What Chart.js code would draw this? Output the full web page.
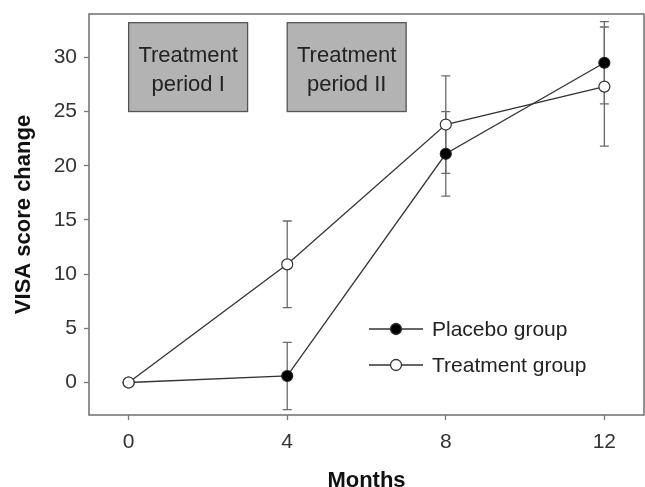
<!DOCTYPE html>
<html>
<head>
<meta charset="utf-8">
<script src="https://cdn.jsdelivr.net/npm/chart.js@4"></script>
<style>
  body { margin: 0; background: #fff; }
  #visaChart { display: block; }
</style>
</head>
<body>
<canvas id="visaChart" width="645" height="487"></canvas>
<script>
const months = [0, 4, 8, 12];
const placeboMean = [0, 0.6, 21.1, 29.5];
const placeboErr = [0, 3.1, 3.9, 3.8];
const treatmentMean = [0, 10.9, 23.8, 27.3];
const treatmentErr = [0, 4.0, 4.5, 5.5];

const xTicks = [0, 4, 8, 12];
const yTicks = [0, 5, 10, 15, 20, 25, 30];

const periodLabels = [['Treatment', 'period I'], ['Treatment', 'period II']];
const periodStart = [0, 4];
const periodEnd = [3, 7];
const periodLow = 25;
const periodHigh = 33.2;

const FONT = '"Liberation Sans", Arial, Helvetica, sans-serif';
const LINE = '#333';
const FRAME = '#777';

const toPoints = (ys) => months.map((m, i) => ({ x: m, y: ys[i] }));

function noEdgePadding(scale) {
  scale.paddingTop = 0;
  scale.paddingBottom = 0;
  scale.paddingLeft = 0;
  scale.paddingRight = 0;
}

// error bars + shaded period boxes, behind the lines
const backdrop = {
  id: 'backdrop',
  beforeDatasetsDraw(chart) {
    const { ctx, scales: { x, y } } = chart;
    ctx.save();

    periodStart.forEach((start, i) => {
      const left = x.getPixelForValue(start);
      const right = x.getPixelForValue(periodEnd[i]);
      const top = y.getPixelForValue(periodHigh);
      const bottom = y.getPixelForValue(periodLow);
      ctx.fillStyle = '#b3b3b3';
      ctx.fillRect(left, top, right - left, bottom - top);
      ctx.strokeStyle = '#555';
      ctx.lineWidth = 1.3;
      ctx.strokeRect(left, top, right - left, bottom - top);

      ctx.fillStyle = '#222';
      ctx.font = `22px ${FONT}`;
      ctx.textAlign = 'center';
      ctx.textBaseline = 'alphabetic';
      const cx = (left + right) / 2;
      ctx.fillText(periodLabels[i][0], cx, top + 39);
      ctx.fillText(periodLabels[i][1], cx, top + 68);
    });

    ctx.strokeStyle = '#6a6a6a';
    ctx.lineWidth = 1.3;
    const cap = 4.5;
    [[placeboMean, placeboErr], [treatmentMean, treatmentErr]].forEach(([means, errs]) => {
      months.forEach((m, i) => {
        if (!errs[i]) return;
        const px = x.getPixelForValue(m);
        const hi = y.getPixelForValue(means[i] + errs[i]);
        const lo = y.getPixelForValue(means[i] - errs[i]);
        ctx.beginPath();
        ctx.moveTo(px, hi);
        ctx.lineTo(px, lo);
        ctx.moveTo(px - cap, hi);
        ctx.lineTo(px + cap, hi);
        ctx.moveTo(px - cap, lo);
        ctx.lineTo(px + cap, lo);
        ctx.stroke();
      });
    });
    ctx.restore();
  },
  afterDraw(chart) {
    const { ctx, chartArea: a } = chart;
    ctx.save();
    ctx.strokeStyle = FRAME;
    ctx.lineWidth = 1.6;
    ctx.strokeRect(a.left, a.top, a.right - a.left, a.bottom - a.top);

    // legend inside the plot
    const rows = [
      { text: 'Placebo group', fill: '#000' },
      { text: 'Treatment group', fill: '#fff' },
    ];
    rows.forEach((row, i) => {
      const ly = a.top + 315 + i * 36;
      const lx = a.left + 280;
      ctx.strokeStyle = LINE;
      ctx.lineWidth = 1.3;
      ctx.beginPath();
      ctx.moveTo(lx, ly);
      ctx.lineTo(lx + 54, ly);
      ctx.stroke();
      ctx.beginPath();
      ctx.arc(lx + 27, ly, 5.5, 0, Math.PI * 2);
      ctx.fillStyle = row.fill;
      ctx.fill();
      ctx.stroke();
      ctx.fillStyle = '#222';
      ctx.font = `21px ${FONT}`;
      ctx.textAlign = 'left';
      ctx.textBaseline = 'middle';
      ctx.fillText(row.text, lx + 63, ly + 1);
    });
    ctx.restore();
  },
};

new Chart(document.getElementById('visaChart'), {
  type: 'line',
  data: {
    datasets: [
      {
        label: 'Placebo group',
        data: toPoints(placeboMean),
        order: 2,
        borderColor: LINE,
        borderWidth: 1.3,
        pointRadius: 5.5,
        pointBorderWidth: 1.2,
        pointBackgroundColor: '#000',
        pointBorderColor: '#222',
        tension: 0,
      },
      {
        label: 'Treatment group',
        data: toPoints(treatmentMean),
        order: 1,
        borderColor: LINE,
        borderWidth: 1.3,
        pointRadius: 5.5,
        pointBorderWidth: 1.2,
        pointBackgroundColor: '#fff',
        pointBorderColor: '#333',
        tension: 0,
      },
    ],
  },
  options: {
    responsive: false,
    animation: false,
    events: [],
    layout: { autoPadding: false, padding: { top: 14, right: 1, left: 0, bottom: 0 } },
    plugins: { legend: { display: false }, tooltip: { enabled: false } },
    scales: {
      x: {
        type: 'linear',
        min: -1,
        max: 13,
        afterBuildTicks: (scale) => { scale.ticks = xTicks.map((v) => ({ value: v })); },
        afterFit: (scale) => { scale.height = 72; noEdgePadding(scale); },
        border: { display: false },
        grid: { drawOnChartArea: false, tickLength: 5, tickColor: FRAME, tickWidth: 1.3 },
        ticks: { color: '#333', padding: 10, font: { family: FONT, size: 21 } },
        title: {
          display: true,
          text: 'Months',
          color: '#111',
          padding: 0,
          font: { family: FONT, size: 22, weight: 'bold', lineHeight: 0.55 },
        },
      },
      y: {
        min: -3,
        max: 34,
        afterBuildTicks: (scale) => { scale.ticks = yTicks.map((v) => ({ value: v })); },
        afterFit: (scale) => { scale.width = 89; noEdgePadding(scale); },
        border: { display: false },
        grid: { drawOnChartArea: false, tickLength: 5, tickColor: FRAME, tickWidth: 1.3 },
        ticks: { color: '#333', padding: 7, font: { family: FONT, size: 21 } },
        title: {
          display: true,
          text: 'VISA score change',
          color: '#111',
          padding: { top: 11, bottom: 0 },
          font: { family: FONT, size: 22, weight: 'bold' },
        },
      },
    },
  },
  plugins: [backdrop],
});
</script>
</body>
</html>
